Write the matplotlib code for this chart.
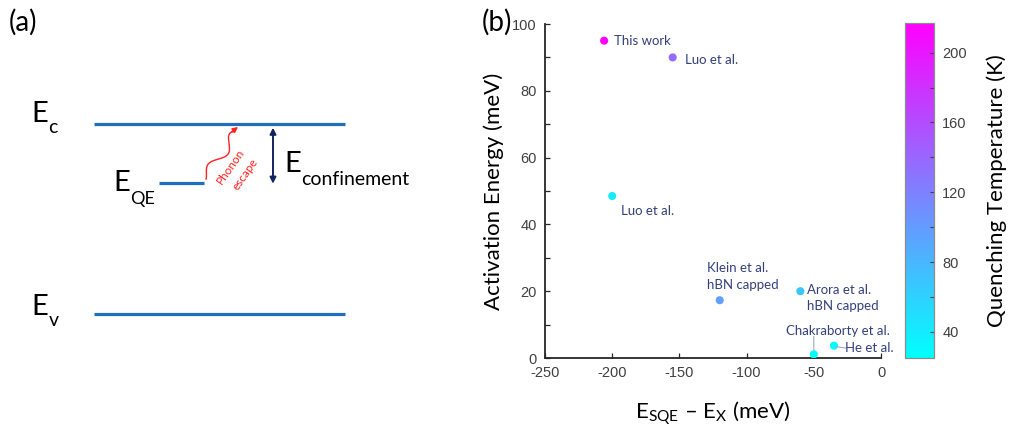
import numpy as np
import matplotlib
matplotlib.use("Agg")
import matplotlib.pyplot as plt
from matplotlib.patches import FancyArrowPatch

# ---------------- data for panel (b) ----------------
labels = ["This work", "Luo et al.", "Luo et al.", "Klein et al.\nhBN capped",
          "Arora et al.\nhBN capped", "Chakraborty et al.", "He et al."]
detuning = [-206, -155, -200, -120, -60, -50, -35]          # E_SQE - E_X (meV)
activation = [95, 90, 48.5, 17.3, 20, 1.1, 3.7]            # activation energy (meV)
quench_T = [217, 138, 40, 98, 67, 25, 30]                   # quenching temperature (K)

x_ticks = [-250, -200, -150, -100, -50, 0]
y_ticks = [0, 20, 40, 60, 80, 100]
cbar_ticks = [40, 80, 120, 160, 200]

# ---------------- schematic levels for panel (a), in canvas pixels ----------------
band_x = (94, 345)
level_Ec = 123.7
level_Ev = 313.7
qe_x = (159, 204)
level_QE = 182.7

LABEL_FONT = "Lato"
TICK_FONT = "Liberation Sans"
plt.rcParams["font.family"] = TICK_FONT
plt.rcParams["axes.unicode_minus"] = False
plt.rcParams["mathtext.fontset"] = "custom"
plt.rcParams["mathtext.rm"] = LABEL_FONT
plt.rcParams["mathtext.it"] = LABEL_FONT + ":italic"
plt.rcParams["mathtext.bf"] = LABEL_FONT + ":bold"

W, H = 1016, 433
fig = plt.figure(figsize=(W / 100, H / 100), dpi=100)

navy_text = "#33407a"
band_blue = "#1f6fbd"

# ---- panel (a): band diagram ----
sch = fig.add_axes([0, 0, 1, 1])
sch.set_xlim(0, W)
sch.set_ylim(H, 0)
sch.axis("off")

for lvl, xr in ((level_Ec, band_x), (level_Ev, band_x), (level_QE, qe_x)):
    sch.plot(xr, [lvl, lvl], color=band_blue, lw=2.3, solid_capstyle="butt")


def level_label(x, y, main, sub, size, subsize, dy=4):
    t = sch.text(x, y, main, fontsize=size, family=LABEL_FONT, color="black",
                 ha="left", va="baseline")
    sch.annotate(sub, xy=(1, 0), xycoords=t, xytext=(0.5, -dy),
                 textcoords="offset points", fontsize=subsize,
                 family=LABEL_FONT, color="black", ha="left", va="baseline")
    return t


level_label(31, 122, "E", "c", 21, 14, dy=4)
level_label(31, 315, "E", "v", 21, 14, dy=4)
level_label(113, 191, "E", "QE", 21, 13, dy=6)
level_label(284, 172, "E", "confinement", 21, 14, dy=6)

sch.text(9, 31, "(a)", fontsize=20, family=LABEL_FONT, color="black",
         ha="left", va="baseline")
sch.text(482, 31, "(b)", fontsize=20, family=LABEL_FONT, color="black",
         ha="left", va="baseline")

# confinement double arrow
sch.add_patch(FancyArrowPatch((273, level_QE + 1), (273, level_Ec + 4),
                              arrowstyle="<|-|>", mutation_scale=9,
                              color="#14245e", lw=1.4, shrinkA=0, shrinkB=0))

# wavy phonon path
s = np.linspace(0, 1, 150)
p0 = np.array([206.0, 179.0])
p1 = np.array([233.0, 132.0])
d = p1 - p0
perp = np.array([-d[1], d[0]]) / np.hypot(*d)
amp = 7.0 * np.sin(2 * np.pi * 1.2 * s + np.pi) * np.sin(np.pi * s) ** 0.5
xs = p0[0] + d[0] * s + perp[0] * amp
ys = p0[1] + d[1] * s + perp[1] * amp
sch.plot(xs, ys, color="#ff2020", lw=1.0)
sch.add_patch(FancyArrowPatch((xs[-3], ys[-3]), (238, 127),
                              arrowstyle="-|>", mutation_scale=8,
                              color="#ff2020", lw=1.0, shrinkA=0, shrinkB=0))
sch.text(231, 166, "Phonon", rotation=55, fontsize=8.5, family=LABEL_FONT,
         color="#ff2020", ha="center", va="center", rotation_mode="anchor")
sch.text(245, 174, "escape", rotation=55, fontsize=8.5, family=LABEL_FONT,
         color="#ff2020", ha="center", va="center", rotation_mode="anchor")

# ---- panel (b): scatter ----
ax = fig.add_axes([545 / W, 1 - 358 / H, 336 / W, (358 - 24) / H])
cmap = plt.get_cmap("cool")
sc = ax.scatter(detuning, activation, c=quench_T, cmap=cmap,
                vmin=min(quench_T), vmax=max(quench_T), s=34, zorder=3,
                edgecolors="none")
ax.set_xlim(x_ticks[0], x_ticks[-1])
ax.set_ylim(y_ticks[0], y_ticks[-1])
ax.set_xticks(x_ticks)
ax.set_yticks(y_ticks)
ax.set_yticks(np.arange(10, 100, 20), minor=True)
for sp in ("top", "right"):
    ax.spines[sp].set_visible(False)
for sp in ("left", "bottom"):
    ax.spines[sp].set_color("#262626")
    ax.spines[sp].set_linewidth(1.3)
ax.tick_params(which="both", direction="in", length=3.5, width=0.9,
               colors="#262626", labelcolor="#404040", labelsize=10.5, pad=6)

ax.set_ylabel("Activation Energy (meV)", fontsize=16, family=LABEL_FONT,
              labelpad=6)
ax.set_xlabel(r"E$_{\mathrm{SQE}}$ – E$_{\mathrm{X}}$ (meV)", fontsize=16,
              family=LABEL_FONT, labelpad=14)

# label offsets in points relative to each marker
offsets = [(7, 0), (9, -2), (6, -11), (-9, 17), (5, -5), (-20, 17), (8, -2)]
for name, x, y, off in zip(labels, detuning, activation, offsets):
    ax.annotate(name, xy=(x, y), xytext=off, textcoords="offset points",
                fontsize=9.5, family=LABEL_FONT, color=navy_text,
                ha="left", va="center", linespacing=1.45, zorder=4)

# leader lines for the two crowded labels
ax.annotate("", xy=(detuning[5], activation[5] + 1.2), xytext=(0, 10),
            textcoords="offset points",
            arrowprops=dict(arrowstyle="-", color="#9aa8c0", lw=0.8,
                            shrinkA=0, shrinkB=0))
ax.annotate("", xy=(detuning[6] + 1.5, activation[6] - 0.3), xytext=(7, -1),
            textcoords="offset points",
            arrowprops=dict(arrowstyle="-", color="#9aa8c0", lw=0.8,
                            shrinkA=0, shrinkB=0))

# ---- colorbar ----
cax = fig.add_axes([905 / W, 1 - 358 / H, 29 / W, (358 - 23) / H])
cb = fig.colorbar(sc, cax=cax)
cb.set_ticks(cbar_ticks)
cb.ax.set_yticks([60, 100, 140, 180], minor=True)
cb.outline.set_edgecolor("#8c8c8c")
cb.outline.set_linewidth(0.9)
cb.ax.tick_params(which="both", direction="in", length=3, width=0.8,
                  colors="#404040", labelsize=10.5, pad=6)
cb.set_label("Quenching Temperature (K)", fontsize=16, family=LABEL_FONT,
             labelpad=14)

fig.savefig("out.png", dpi=100)
